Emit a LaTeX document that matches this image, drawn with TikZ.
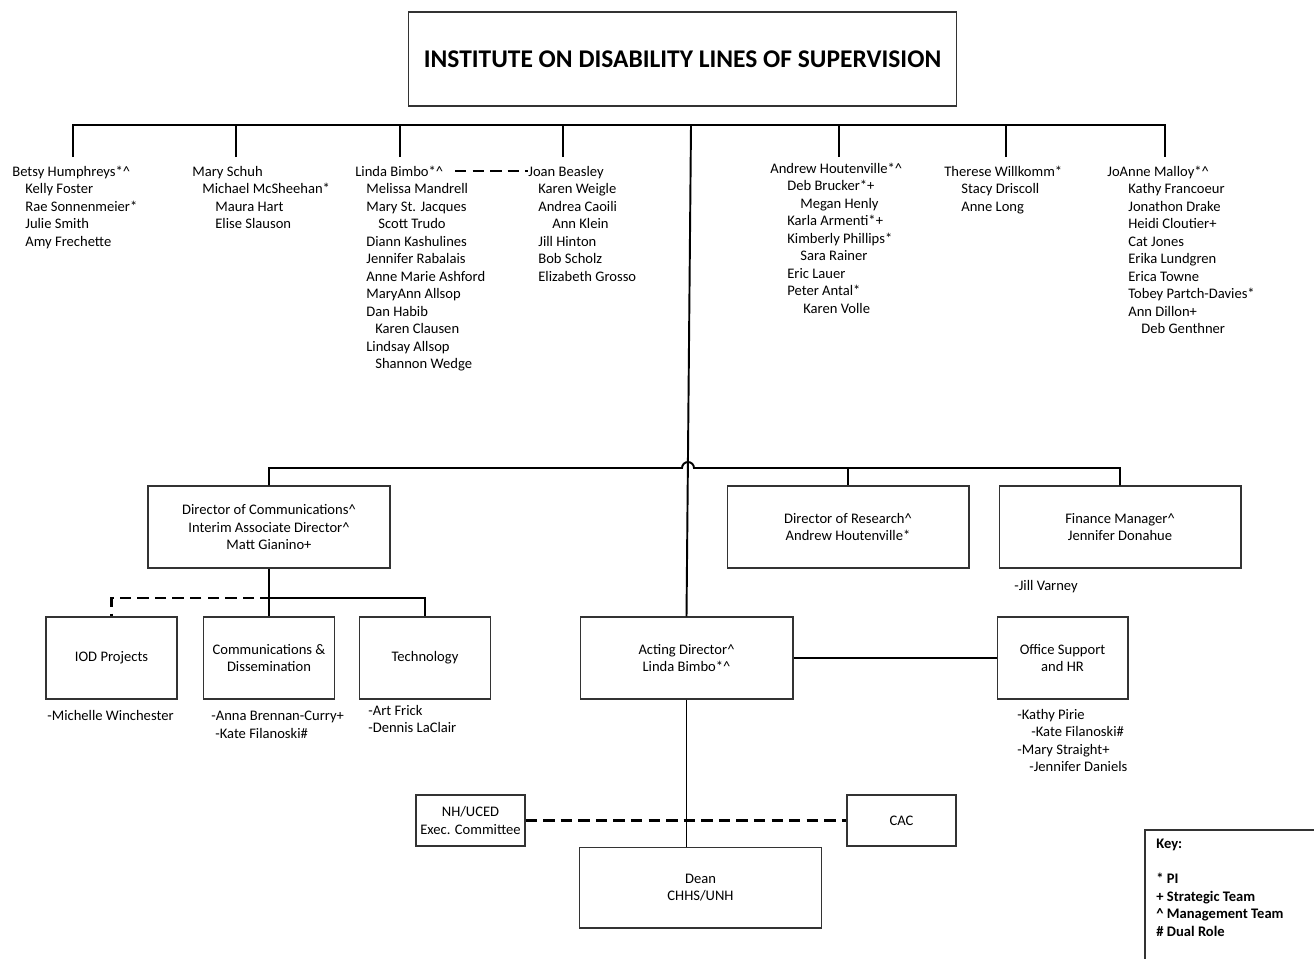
\documentclass[tikz,border=0pt]{standalone}
\usepackage{fontspec}
\setmainfont{Carlito}
\newcommand{\nm}{\fontsize{8.3}{9.96}\selectfont}
\newcommand{\mgmt}{\textasciicircum}

\begin{document}
\begin{tikzpicture}[
  x=0.02cm, y=-0.02cm,
  unit/.style={rectangle, draw=black!80, line width=0.6pt, align=center, font=\nm, inner sep=2pt},
  widebox/.style={unit, minimum width=4.84cm, minimum height=1.64cm},
  teambox/.style={unit, minimum width=2.62cm, minimum height=1.64cm},
  sidebox/.style={unit, minimum width=2.18cm, minimum height=1.02cm},
  namelist/.style={anchor=north west, align=left, inner sep=0pt, font=\nm, execute at begin node=\strut},
  link/.style={line width=1.1pt},
  duallink/.style={line width=1.4pt, dash pattern=on 6.5pt off 3.5pt}
]
\useasboundingbox (0,0) rectangle (1314,958);

\node[unit, minimum width=10.98cm, minimum height=1.88cm, font=\bfseries\fontsize{14.5}{16}\selectfont] (title) at (682.5,59) {INSTITUTE ON DISABILITY LINES OF SUPERVISION};

% project directors and their staff
\node[namelist] (betsy) at (12,165.7) {Betsy Humphreys*\mgmt\\
  \hspace*{0.26cm}Kelly Foster\\
  \hspace*{0.26cm}Rae Sonnenmeier*\\
  \hspace*{0.26cm}Julie Smith\\
  \hspace*{0.26cm}Amy Frechette};
\node[namelist] (mary) at (192,165.7) {Mary Schuh\\
  \hspace*{0.2cm}Michael McSheehan*\\
  \hspace*{0.46cm}Maura Hart\\
  \hspace*{0.46cm}Elise Slauson};
\node[namelist] (linda) at (355,165.7) {Linda Bimbo*\mgmt\\
  \hspace*{0.22cm}Melissa Mandrell\\
  \hspace*{0.22cm}Mary St. Jacques\\
  \hspace*{0.46cm}Scott Trudo\\
  \hspace*{0.22cm}Diann Kashulines\\
  \hspace*{0.22cm}Jennifer Rabalais\\
  \hspace*{0.22cm}Anne Marie Ashford\\
  \hspace*{0.22cm}MaryAnn Allsop\\
  \hspace*{0.22cm}Dan Habib\\
  \hspace*{0.4cm}Karen Clausen\\
  \hspace*{0.22cm}Lindsay Allsop\\
  \hspace*{0.4cm}Shannon Wedge};
\node[namelist] (joan) at (528,165.7) {Joan Beasley\\
  \hspace*{0.2cm}Karen Weigle\\
  \hspace*{0.2cm}Andrea Caoili\\
  \hspace*{0.48cm}Ann Klein\\
  \hspace*{0.2cm}Jill Hinton\\
  \hspace*{0.2cm}Bob Scholz\\
  \hspace*{0.2cm}Elizabeth Grosso};
\node[namelist] (andrew) at (770,162.7) {Andrew Houtenville*\mgmt\\
  \hspace*{0.34cm}Deb Brucker*+\\
  \hspace*{0.6cm}Megan Henly\\
  \hspace*{0.34cm}Karla Armenti*+\\
  \hspace*{0.34cm}Kimberly Phillips*\\
  \hspace*{0.6cm}Sara Rainer\\
  \hspace*{0.34cm}Eric Lauer\\
  \hspace*{0.34cm}Peter Antal*\\
  \hspace*{0.66cm}Karen Volle};
\node[namelist] (therese) at (944,165.7) {Therese Willkomm*\\
  \hspace*{0.34cm}Stacy Driscoll\\
  \hspace*{0.34cm}Anne Long};
\node[namelist] (joanne) at (1107,165.7) {JoAnne Malloy*\mgmt\\
  \hspace*{0.42cm}Kathy Francoeur\\
  \hspace*{0.42cm}Jonathon Drake\\
  \hspace*{0.42cm}Heidi Cloutier+\\
  \hspace*{0.42cm}Cat Jones\\
  \hspace*{0.42cm}Erika Lundgren\\
  \hspace*{0.42cm}Erica Towne\\
  \hspace*{0.42cm}Tobey Partch-Davies*\\
  \hspace*{0.42cm}Ann Dillon+\\
  \hspace*{0.68cm}Deb Genthner};

% units
\node[widebox] (dircomm) at (269,527) {Director of Communications\mgmt\\Interim Associate Director\mgmt\\Matt Gianino+};
\node[widebox] (dirres) at (848,527) {Director of Research\mgmt\\Andrew Houtenville*};
\node[widebox] (finance) at (1120,527) {Finance Manager\mgmt\\Jennifer Donahue};
\node[teambox] (iod) at (111.5,658) {IOD Projects};
\node[teambox] (commdis) at (269,658) {Communications \&\\Dissemination};
\node[teambox] (tech) at (425,658) {Technology};
\node[widebox, minimum width=4.26cm] (acting) at (686.5,658) {Acting Director\mgmt\\Linda Bimbo*\mgmt};
\node[teambox] (office) at (1062.5,658) {Office Support\\and HR};
\node[sidebox] (nhuced) at (470.5,820.5) {NH/UCED\\Exec. Committee};
\node[sidebox] (cac) at (901.5,820.5) {CAC};
\node[widebox, minimum height=1.62cm] (dean) at (700.5,887.5) {Dean\\CHHS/UNH};

\node[namelist] (iodstaff) at (47,707.7) {-Michelle Winchester};
\node[namelist] (commstaff) at (211,710.7) {-Anna Brennan-Curry+\\\hspace*{0.08cm}-Kate Filanoski\#};
\node[namelist] (techstaff) at (368,704.7) {-Art Frick\\-Dennis LaClair};
\node[namelist] (finstaff) at (1014,577.7) {-Jill Varney};
\node[namelist] (officestaff) at (1017,708.7) {-Kathy Pirie\\
  \hspace*{0.28cm}-Kate Filanoski\#\\
  -Mary Straight+\\
  \hspace*{0.24cm}-Jennifer Daniels};

% key
\draw[line width=0.6pt, draw=black!80] (1145,962) |- (1318,830);
\node[namelist, font=\nm\bfseries] (key) at (1156,838.7) {Key:\\[0.35cm]{*} PI\\+ Strategic Team\\\mgmt{} Management Team\\\# Dual Role};

% top bar
\coordinate (topbar) at (691,125);
\coordinate (footA) at (73,157);
\coordinate (footB) at (236,157);
\coordinate (footC) at (400,157);
\coordinate (footD) at (563,157);
\coordinate (footE) at (839,157);
\coordinate (footF) at (1006,157);
\coordinate (footG) at (1165,157);
\draw[link] (footA) |- (topbar) -| (footG);
\draw[link] (footB) -- (footB |- topbar);
\draw[link] (footC) -- (footC |- topbar);
\draw[link] (footD) -- (footD |- topbar);
\draw[link] (footE) -- (footE |- topbar);
\draw[link] (footF) -- (footF |- topbar);
\draw[link] (topbar) -- (acting.north);
\coordinate (lindaend) at (455,171);
\draw[duallink] (lindaend) -- (lindaend -| joan.west);

% middle bar with hop
\coordinate (hopL) at (682,468);
\draw[link] (dircomm.north) |- (hopL) arc[start angle=180, end angle=0, radius=0.12cm] -| (finance.north);
\draw[link] (dirres.north) -- (dirres.north |- hopL);

% communications teams
\coordinate (commsplit) at (269,598);
\draw[link] (dircomm.south) -- (commdis.north);
\draw[link] (commsplit) -| (tech.north);
\draw[duallink, dash phase=1.5pt] (commsplit) -| (iod.north);

% acting director
\draw[link] (acting) -- (office);
\draw[link] (acting.south) -- (acting.south |- dean.north);
\draw[duallink] (nhuced) -- (cac);

\end{tikzpicture}
\end{document}
